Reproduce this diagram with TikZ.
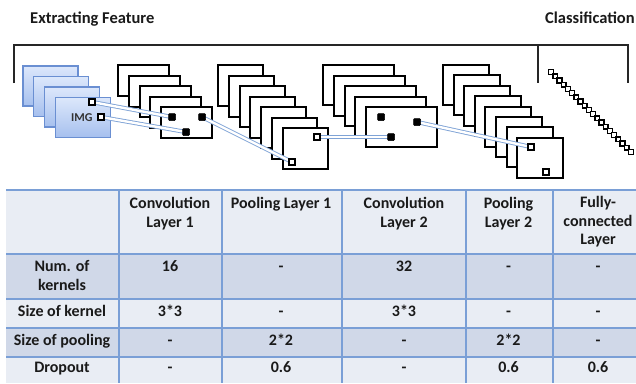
\documentclass[tikz,border=0pt]{standalone}
\usepackage{fontspec}
\setmainfont{Carlito}
\definecolor{imgtop}{HTML}{DCE7FB}
\definecolor{imgbot}{HTML}{A6C0EE}
\definecolor{imgborder}{HTML}{6A8FD2}
\definecolor{linkc}{HTML}{7FA3D6}
\definecolor{rowlight}{HTML}{E9EDF4}
\definecolor{rowdark}{HTML}{D0D8E8}
\definecolor{gridc}{HTML}{7A9FD6}
\definecolor{textc}{HTML}{1A1A1A}
\newcommand{\tabfont}{\fontsize{16}{18.5}\selectfont\bfseries}
\begin{document}
\begin{tikzpicture}[x=1pt,y=-1pt,
  frame/.style={draw=black, line width=2pt, fill=white, anchor=north west, inner sep=0pt, outer sep=0pt},
  imgbox/.style={draw=imgborder, line width=1.2pt, top color=imgtop, bottom color=imgbot, anchor=north west, inner sep=0pt, outer sep=0pt, minimum width=55pt, minimum height=40pt},
  osq/.style={draw=black, line width=1.7pt, fill=white, minimum size=6.5pt, inner sep=0pt, outer sep=0pt},
  bsq/.style={draw=black, fill=black, line width=0.5pt, rounded corners=1pt, minimum size=7pt, inner sep=0pt, outer sep=0pt},
  fsq/.style={draw=black, line width=1.4pt, fill=white, minimum size=4.8pt, inner sep=0pt, outer sep=0pt},
  link/.style={draw=linkc, line width=0.9pt, double=white, double distance=2.4pt},
  bracket/.style={draw=black!85, line width=2pt},
  grid/.style={draw=gridc, line width=1.4pt},
  cell/.style={anchor=north, inner sep=0pt, outer sep=0pt, align=center, font=\tabfont, text=textc},
  headtxt/.style={anchor=base west, inner sep=0pt, font=\fontsize{16.5}{18}\selectfont\bfseries, text=textc}]
\useasboundingbox (0,0) rectangle (636,383);
\fill[white] (0,0) rectangle (636,383);

% titles
\node[headtxt] (tEF) at (30,23.5) {Extracting Feature};
\node[headtxt] (tCL) at (545,23.5) {Classification};

% bracket
\coordinate (bL) at (14,83);
\coordinate (bR) at (628,83);
\coordinate (bM) at (538,83);
\draw[bracket] (bL) -- (14,45) -- (628,45) -- (bR);
\draw[bracket] (538,45) -- (bM);

% image stack
\foreach \i in {0,...,3}
  \node[imgbox] (img\i) at (23+10.8*\i, 66+10.5*\i) {};
\node[anchor=base west, inner sep=0pt, font=\fontsize{12}{13}\selectfont\bfseries, text=black!80] (imgtxt) at (71,121) {IMG};

% conv1 stack
\foreach \i in {0,...,4}
  \node[frame, minimum width=51pt, minimum height=31pt] (ca\i) at (118+10.75*\i, 65+10.5*\i) {};
% pool1 stack
\foreach \i in {0,...,6}
  \node[frame, minimum width=45pt, minimum height=41pt] (pa\i) at (218+10.8*\i, 65+10.5*\i) {};
% conv2 stack
\foreach \i in {0,...,4}
  \node[frame, minimum width=71pt, minimum height=40pt] (cb\i) at (323+10.75*\i, 65+10.5*\i) {};
% pool2 stack
\foreach \i in {0,...,7}
  \node[frame, minimum width=46pt, minimum height=40pt] (pb\i) at (443+10.6*\i, 65+10.4*\i) {};

% feature square positions
\coordinate (s1) at (92,102);
\coordinate (s2) at (101,117);
\coordinate (k1) at (172,117);
\coordinate (k2) at (202,117);
\coordinate (k3) at (186,132);
\coordinate (q1) at (292,162);
\coordinate (q2) at (317,137);
\coordinate (m1) at (381,117);
\coordinate (m2) at (417,122);
\coordinate (m3) at (391,137);
\coordinate (r1) at (531,147);
\coordinate (r2) at (546,172);

% links
\draw[link] (s1) -- (k1);
\draw[link] (s2) -- (k3);
\draw[link] (k2) -- (q1);
\draw[link] (q2) -- (m3);
\draw[link] (m2) -- (r1);

% squares on top
\node[osq] (S1) at (s1) {};
\node[osq] (S2) at (s2) {};
\node[bsq] (K1) at (k1) {};
\node[bsq] (K2) at (k2) {};
\node[bsq] (K3) at (k3) {};
\node[osq] (Q1) at (q1) {};
\node[osq] (Q2) at (q2) {};
\node[bsq] (M1) at (m1) {};
\node[bsq] (M2) at (m2) {};
\node[bsq] (M3) at (m3) {};
\node[osq] (R1) at (r1) {};
\node[osq] (R2) at (r2) {};

% fully connected chain
\foreach \k in {0,...,19}
  \node[fsq] (fc\k) at (551+4.2*\k, 72+4.2*\k) {};

% table
\fill[rowlight] (6,190) rectangle (636,383);
\fill[rowdark] (6,254) rectangle (636,299);
\fill[rowdark] (6,328) rectangle (636,357);
\foreach \yy in {190,254,299,328,357}
  \draw[grid] (6,\yy) -- (636,\yy);
\foreach \xx in {119,222,342,466,553}
  \draw[grid] (\xx,190) -- (\xx,383);

% header row
\node[cell] (h1) at (170,196) {\strut Convolution\\Layer 1};
\node[cell] (h2) at (281,196) {\strut Pooling Layer 1};
\node[cell] (h3) at (404,196) {\strut Convolution\\Layer 2};
\node[cell] (h4) at (508.5,196) {\strut Pooling\\Layer 2};
\node[cell] (h5) at (598,195) {\strut Fully-\\connected\\Layer};
% row 2
\node[cell] (r2a) at (62,259) {\strut Num. of\\kernels};
\node[cell] (r2b) at (170,259) {\strut 16};
\node[cell] (r2c) at (281,259) {\strut -};
\node[cell] (r2d) at (404,259) {\strut 32};
\node[cell] (r2e) at (508.5,259) {\strut -};
\node[cell] (r2f) at (598,259) {\strut -};
% row 3
\node[cell] (r3a) at (62,304) {\strut Size of kernel};
\node[cell] (r3b) at (170,304) {\strut 3*3};
\node[cell] (r3c) at (281,304) {\strut -};
\node[cell] (r3d) at (404,304) {\strut 3*3};
\node[cell] (r3e) at (508.5,304) {\strut -};
\node[cell] (r3f) at (598,304) {\strut -};
% row 4
\node[cell] (r4a) at (62,333) {\strut Size of pooling};
\node[cell] (r4b) at (170,333) {\strut -};
\node[cell] (r4c) at (281,333) {\strut 2*2};
\node[cell] (r4d) at (404,333) {\strut -};
\node[cell] (r4e) at (508.5,333) {\strut 2*2};
\node[cell] (r4f) at (598,333) {\strut -};
% row 5
\node[cell] (r5a) at (62,360) {\strut Dropout};
\node[cell] (r5b) at (170,360) {\strut -};
\node[cell] (r5c) at (281,360) {\strut 0.6};
\node[cell] (r5d) at (404,360) {\strut -};
\node[cell] (r5e) at (508.5,360) {\strut 0.6};
\node[cell] (r5f) at (598,360) {\strut 0.6};
\end{tikzpicture}
\end{document}
